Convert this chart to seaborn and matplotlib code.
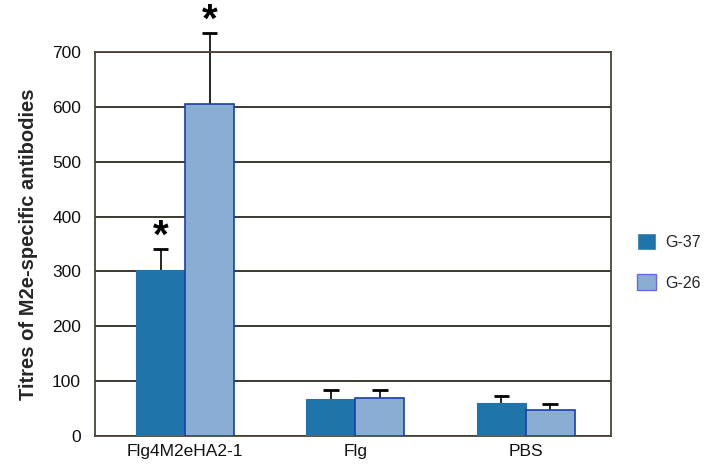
import numpy as np
import pandas as pd
import matplotlib
matplotlib.use("Agg")
import matplotlib.pyplot as plt
import seaborn as sns

groups = ["Flg4M2eHA2-1", "Flg", "PBS"]
series = ["G-37", "G-26"]
g37 = [303, 68, 61]
g26 = [605, 69, 48]
g37_err = [38, 15, 11]
g26_err = [130, 14, 10]
stars = {("Flg4M2eHA2-1", "G-37"): True, ("Flg4M2eHA2-1", "G-26"): True}

df = pd.DataFrame({
    "group": groups * 2,
    "series": ["G-37"] * 3 + ["G-26"] * 3,
    "value": g37 + g26,
    "err": g37_err + g26_err,
})

sns.set_style("white")
plt.rcParams['font.family'] = ['Liberation Sans', 'DejaVu Sans']

fig = plt.figure(figsize=(7.11, 4.72), dpi=100)
ax = fig.add_axes([0.1336, 0.0763, 0.7254, 0.8135])

pal = {"G-37": "#1f74aa", "G-26": "#8aadd4"}
sns.barplot(data=df, x="group", y="value", hue="series", order=groups,
            hue_order=series, palette=pal, width=0.575, errorbar=None,
            saturation=1, ax=ax, zorder=3)

# edges + one-sided error bars + stars
cap = 0.045
for cont, s in zip(ax.containers, series):
    errs = df[df.series == s].set_index("group").loc[groups, "err"].values
    for bar, e, g in zip(cont, errs, groups):
        if s == "G-26":
            bar.set_edgecolor("#1a3fa8")
            bar.set_linewidth(1.2)
        else:
            bar.set_edgecolor("#1f74aa")
            bar.set_linewidth(0.8)
        xc = bar.get_x() + bar.get_width() / 2
        h = bar.get_height()
        ax.vlines(xc, h, h + e, color="black", lw=1.2, zorder=2, clip_on=False)
        ax.hlines(h + e, xc - cap, xc + cap, color="black", lw=2.0,
                  zorder=4, clip_on=False)
        if stars.get((g, s)):
            ax.text(xc, h + e - 13, "*", ha="center", va="bottom",
                    fontsize=29, fontweight="bold", color="black")

ax.set_ylim(0, 700)
ax.set_xlim(-0.53, 2.5)
ax.set_yticks(range(0, 701, 100))
ax.yaxis.grid(True, color="#2b2b22", linewidth=1.3, zorder=0)
ax.set_axisbelow(True)
for sp in ax.spines.values():
    sp.set_color("#4a4538")
    sp.set_linewidth(1.3)
    sp.set_visible(True)
ax.tick_params(axis="both", labelsize=12.5, length=0, pad=6, colors="#111111")
ax.tick_params(axis="y", length=4, direction="out", color="#333333")
ax.set_xlabel("")
ax.set_ylabel("Titres of M2e-specific antibodies", fontsize=14.5,
              fontweight="bold", labelpad=10)

leg = ax.legend(loc="center left", bbox_to_anchor=(1.05, 0.453), frameon=False,
                fontsize=11.5, handlelength=1.2, handleheight=1.2,
                labelspacing=1.5, handletextpad=0.6, borderaxespad=0,
                borderpad=0)
leg.legend_handles[1].set_edgecolor("#6a6ae0")

fig.savefig("out.png", dpi=100)
